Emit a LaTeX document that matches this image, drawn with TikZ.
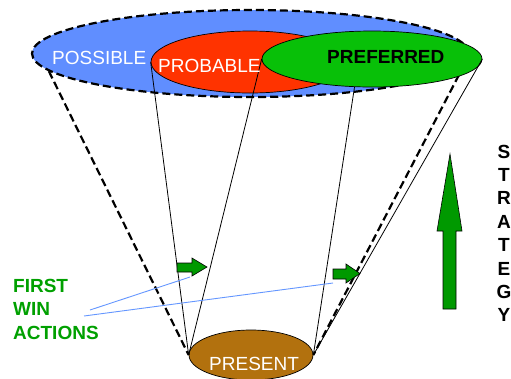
\documentclass[tikz,border=0pt]{standalone}
\usepackage{fontspec}
\setmainfont{Liberation Sans}
\usetikzlibrary{shapes.geometric}
\definecolor{possblue}{RGB}{96,142,255}
\definecolor{probred}{RGB}{255,51,0}
\definecolor{prefgreen}{RGB}{8,192,8}
\definecolor{arrowgreen}{RGB}{0,153,0}
\definecolor{textgreen}{RGB}{0,160,0}
\definecolor{presbrown}{RGB}{178,113,14}
\definecolor{leadblue}{RGB}{100,150,255}
\begin{document}
\begin{tikzpicture}[x=1bp,y=-1bp,
  blob/.style={ellipse, draw=black, line width=0.7bp, inner sep=0pt},
  conedash/.style={line width=2.2bp, dash pattern=on 8bp off 4bp},
  coneline/.style={line width=0.8bp},
  lbl/.style={font=\fontsize{19bp}{23bp}\selectfont, inner sep=0pt},
  blbl/.style={font=\fontsize{19bp}{23bp}\selectfont\bfseries, inner sep=0pt},
  blockarrow/.style={fill=arrowgreen, draw=black, line width=0.6bp},
  leader/.style={draw=leadblue, line width=0.9bp}
]
\useasboundingbox (0,0) rectangle (511,378);

% futures: possible, probable, preferred
\node[blob, fill=possblue, conedash, minimum width=437bp, minimum height=87bp] (possible) at (250.5,53.5) {};
\node[blob, fill=presbrown, minimum width=124bp, minimum height=50bp] (present) at (251,355) {};

% outer cone
\draw[conedash] (possible.185) -- (present.west);
\draw[conedash] (possible.east) -- (present.east);

\node[blob, fill=probred, minimum width=198bp, minimum height=62bp] (probable) at (250,62) {};
\node[blob, fill=prefgreen, minimum width=220bp, minimum height=56bp] (preferred) at (372,59) {};

% inner cones
\draw[coneline] (probable.west) -- (present.west);
\draw[coneline] (preferred.west) -- (present.west);
\draw[coneline] (preferred.238) -- (present.east);
\draw[coneline] (preferred.east) -- (present.east);

% labels
\node[lbl, text=white, anchor=base west] (possibletxt) at (52,64) {POSSIBLE};
\node[lbl, text=white, anchor=base west] (probabletxt) at (158,72) {PROBABLE};
\node[blbl, text=black, anchor=base west] (preferredtxt) at (327,63) {PREFERRED};
\node[lbl, text=white, anchor=base west] (presenttxt) at (209,370) {PRESENT};

% first win actions
\node[blbl, text=textgreen, anchor=base west] (first) at (13,292) {FIRST};
\node[blbl, text=textgreen, anchor=base west] (win) at (13,315) {WIN};
\node[blbl, text=textgreen, anchor=base west] (actions) at (13,339) {ACTIONS};

\fill[blockarrow] (177,263) -- (192,263) -- (192,258) -- (207,267) -- (192,276) -- (192,272) -- (177,272) -- cycle;
\fill[blockarrow] (333,269) -- (346,269) -- (346,264) -- (360,273.5) -- (346,283) -- (346,279) -- (333,279) -- cycle;

\coordinate (leadA) at (90,310);
\coordinate (leadB) at (84,316);
\coordinate (arrowA) at (190,277);
\coordinate (arrowB) at (333,283);
\draw[leader] (leadA) -- (arrowA);
\draw[leader] (leadB) -- (arrowB);

% strategy
\fill[blockarrow] (443,309) -- (443,231) -- (437,231) -- (450,154) -- (462,231) -- (456,231) -- (456,309) -- cycle;
\foreach \c [count=\i] in {S,T,R,A,T,E,G,Y}
  \node[blbl, anchor=base] (strat\i) at (504,{158+23.4*(\i-1)}) {\c};
\end{tikzpicture}
\end{document}
